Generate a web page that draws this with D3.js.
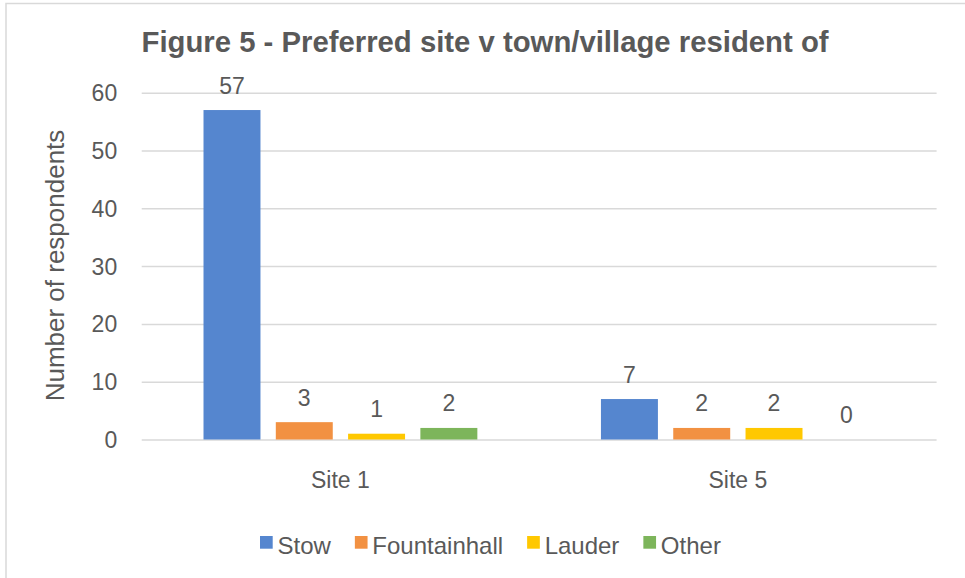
<!DOCTYPE html>
<html>
<head>
<meta charset="utf-8">
<script src="https://cdnjs.cloudflare.com/ajax/libs/d3/7.8.5/d3.min.js"></script>
<style>
  body { margin: 0; background: #fff; }
  text { font-family: "Liberation Sans", Arial, sans-serif; fill: #595959; }
</style>
</head>
<body>
<div id="chart"></div>
<script>
// data
var categories = ["Site 1", "Site 5"];
var seriesNames = ["Stow", "Fountainhall", "Lauder", "Other"];
var stow = [57, 7];
var fountainhall = [3, 2];
var lauder = [1, 2];
var other = [2, 0];
var yTicks = [0, 10, 20, 30, 40, 50, 60];

var seriesValues = [stow, fountainhall, lauder, other];
var colors = ["#5586cf", "#f29142", "#ffc800", "#7db55b"];

var width = 965, height = 578;
var plotLeft = 141.7, plotRight = 936.6, plotTop = 92.7, plotBottom = 439.5;

var svg = d3.select("#chart").append("svg")
    .attr("width", width)
    .attr("height", height);

// chart border (runs off the right / bottom edge like the reference)
svg.append("rect")
    .attr("x", 6).attr("y", 3.5)
    .attr("width", 980).attr("height", 600)
    .attr("fill", "none")
    .attr("stroke", "#d9d9d9")
    .attr("stroke-width", 1.5);

// title
svg.append("text")
    .attr("x", 141.5)
    .attr("y", 51.5)
    .style("font-size", "29.3px")
    .style("font-weight", "bold")
    .text("Figure 5 - Preferred site v town/village resident of");

// scales
var y = d3.scaleLinear()
    .domain([0, 60])
    .range([plotBottom, plotTop]);

var x0 = d3.scaleBand()
    .domain(categories)
    .range([plotLeft, plotRight])
    .paddingInner(0.311)
    .paddingOuter(0.1555);

var x1 = d3.scaleBand()
    .domain(seriesNames)
    .range([0, x0.bandwidth()])
    .paddingInner(0.212);

// gridlines + tick labels
var yAxis = svg.append("g")
    .attr("transform", "translate(" + plotLeft + ",0)")
    .call(d3.axisLeft(y).tickValues(yTicks).tickSize(-(plotRight - plotLeft)).tickPadding(24));

yAxis.select(".domain").remove();
yAxis.selectAll(".tick line")
    .attr("stroke", "#d9d9d9")
    .attr("stroke-width", 1.5);
yAxis.selectAll(".tick text")
    .attr("x", -24.5)
    .attr("dy", "0.35em")
    .style("font-size", "23px")
    .style("font-family", "'Liberation Sans', Arial, sans-serif")
    .attr("fill", "#595959");

// y axis title
svg.append("text")
    .attr("transform", "translate(63.5,265.5) rotate(-90)")
    .attr("text-anchor", "middle")
    .style("font-size", "26px")
    .text("Number of respondents");

// bars
var rows = [];
categories.forEach(function(c, ci) {
  seriesNames.forEach(function(s, si) {
    rows.push({ category: c, series: s, value: seriesValues[si][ci], color: colors[si] });
  });
});

var bars = svg.selectAll(".bar")
    .data(rows)
  .enter().append("g")
    .attr("class", "bar")
    .attr("transform", function(d) { return "translate(" + (x0(d.category) + x1(d.series)) + ",0)"; });

bars.filter(function(d) { return d.value > 0; })
  .append("rect")
    .attr("x", 0)
    .attr("y", function(d) { return y(d.value); })
    .attr("width", x1.bandwidth())
    .attr("height", function(d) { return y(0) - y(d.value); })
    .attr("fill", function(d) { return d.color; });

// value labels
bars.append("text")
    .attr("x", x1.bandwidth() / 2)
    .attr("y", function(d) { return y(d.value) - 16.5; })
    .attr("text-anchor", "middle")
    .style("font-size", "23px")
    .text(function(d) { return d.value; });

// category labels
svg.selectAll(".cat")
    .data(categories)
  .enter().append("text")
    .attr("class", "cat")
    .attr("x", function(d) { return x0(d) + x0.bandwidth() / 2; })
    .attr("y", 488)
    .attr("text-anchor", "middle")
    .style("font-size", "23px")
    .text(function(d) { return d; });

// legend
var legend = svg.append("g");
var lx = 260;
seriesNames.forEach(function(s, i) {
  legend.append("rect")
      .attr("x", lx).attr("y", 536)
      .attr("width", 12.7).attr("height", 12.7)
      .attr("fill", colors[i]);
  var t = legend.append("text")
      .attr("x", lx + 17.5)
      .attr("y", 554.3)
      .style("font-size", "24px")
      .text(s);
  lx = lx + 17.5 + t.node().getComputedTextLength() + 24;
});
</script>
</body>
</html>
